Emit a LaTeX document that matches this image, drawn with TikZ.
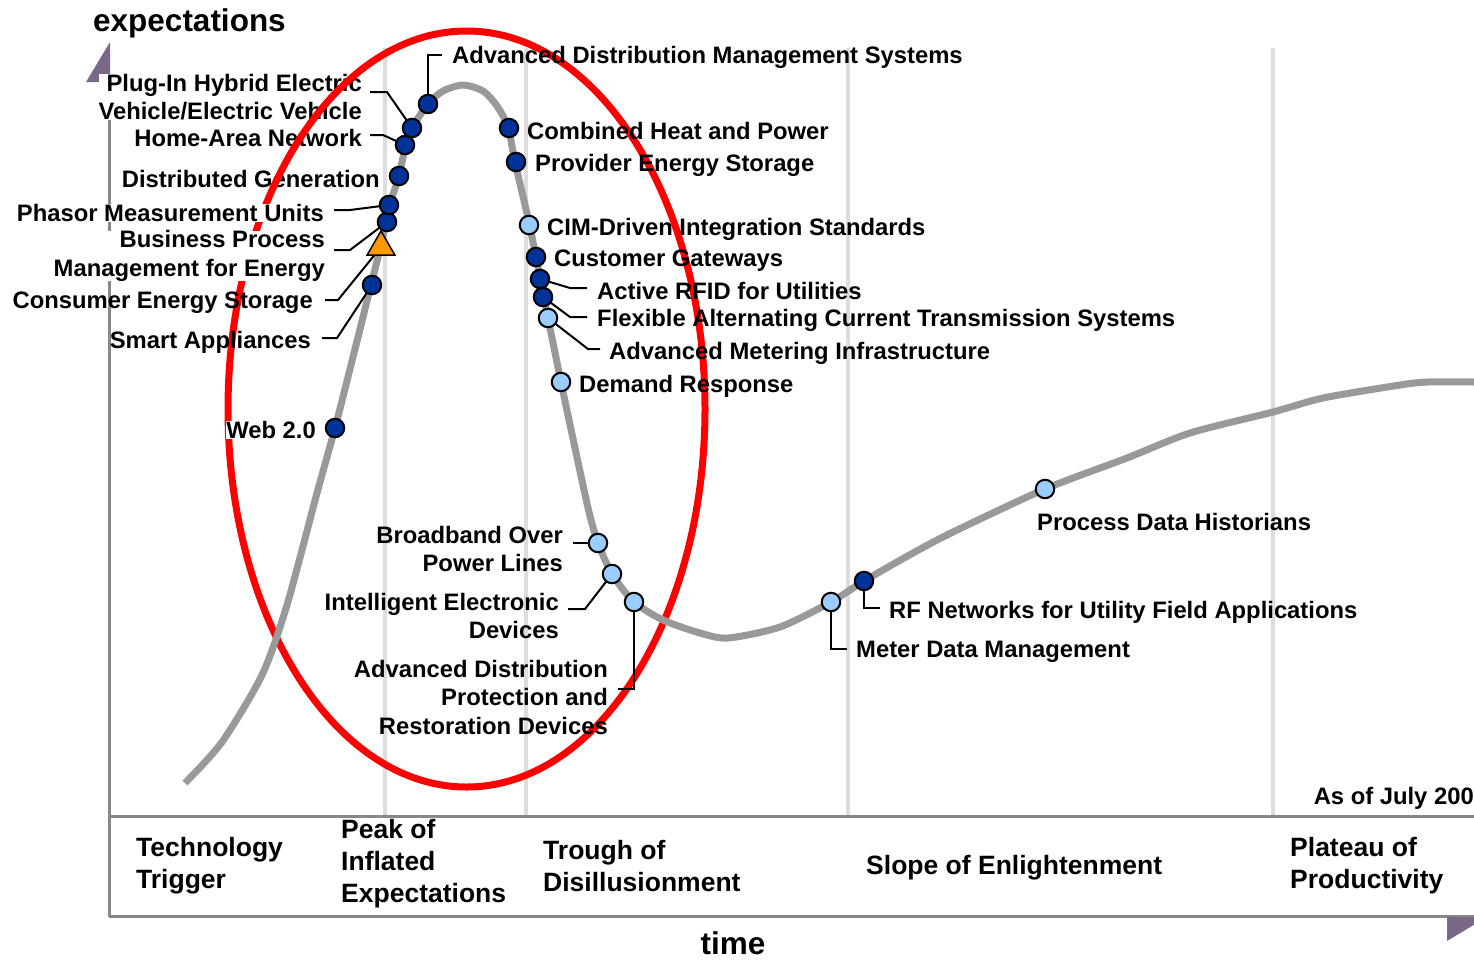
\documentclass[tikz,border=0pt]{standalone}
\usepackage{fontspec}
\setmainfont{Liberation Sans}
\usetikzlibrary{shapes.geometric}
\definecolor{dkblue}{RGB}{0,51,153}
\definecolor{ltblue}{RGB}{153,204,255}
\definecolor{curvegray}{RGB}{153,153,153}
\definecolor{gridgray}{RGB}{221,221,221}
\definecolor{axisgray}{RGB}{136,136,136}
\definecolor{arrowpurple}{RGB}{122,104,136}
\definecolor{trorange}{RGB}{255,153,0}
\begin{document}
\begin{tikzpicture}[x=1pt,y=-1pt,
  lbl/.style={font=\fontsize{23.8}{28.5}\selectfont\bfseries, inner sep=0pt, align=left, anchor=west},
  lblr/.style={font=\fontsize{23.8}{28.5}\selectfont\bfseries, inner sep=0pt, align=right, anchor=east},
  wbox/.style={fill=white},
  phase/.style={font=\fontsize{26.5}{32}\selectfont\bfseries, inner sep=0pt, align=left, anchor=west},
  axtitle/.style={font=\fontsize{31.5}{36}\selectfont\bfseries, inner sep=0pt},
  dkdot/.style={circle, draw=black, line width=2pt, fill=dkblue, minimum size=18.5pt, inner sep=0pt},
  ltdot/.style={dkdot, fill=ltblue},
  tri/.style={regular polygon, regular polygon sides=3, draw=black, line width=1.5pt, fill=trorange, minimum size=32pt, inner sep=0pt},
  leader/.style={draw=black, line width=2pt},
  gridline/.style={draw=gridgray, line width=4pt},
  axisline/.style={draw=axisgray, line width=3pt},
  hype/.style={draw=curvegray, line width=7pt},
  ring/.style={draw=red, line width=7pt}]
\useasboundingbox (0,0) rectangle (1474,959);

% grid lines
\foreach \gx in {385,526,848,1273}{\draw[gridline] (\gx,48) -- (\gx,816);}
% axes
\draw[axisline] (109,816) -- (1474,816);
\draw[axisline] (109,916) -- (1474,916);
\draw[axisline] (109,82) -- (109,917);
\fill[arrowpurple] (110,42) -- (86,82) -- (110,82) -- cycle;
\fill[arrowpurple] (1447,917) -- (1447,941) -- (1487,917) -- cycle;

% labels under the ellipse (white boxes)
\node[lblr, wbox] (lplug) at (362,97) {Plug-In Hybrid Electric\\Vehicle/Electric Vehicle};
\node[lblr, wbox] (lhome) at (362,138) {Home-Area Network};
\node[lblr, wbox] (ldg) at (380,179) {Distributed Generation};

% red ellipse
\draw[ring] (466.5,409) ellipse [x radius=238.5, y radius=378];

% labels over the ellipse
\node[lblr, wbox] (lpmu) at (324,213) {Phasor Measurement Units};
\node[lblr, wbox] (lbpm) at (325,256) {Business Process\\Management for Energy};
\node[lblr] (lces) at (313,303) {Consumer Energy Storage};
\node[lblr] (lsa) at (311,342) {Smart Appliances};
\node[lblr, wbox] (lweb) at (316,430) {Web 2.0};

% hype curve
\draw[hype, line join=round] plot[smooth, tension=0.45] coordinates {
 (185,783) (222,742) (262,675) (287,605) (317,493) (335,428) (353,357) (371,285)
 (381,245) (389,207) (399,176) (405,148) (412,128) (428,104) (443,91) (463,85)
 (483,91) (497,106) (508,127) (515,162) (528,218) (536,257) (541,282) (548,318)
 (561,382) (575,448) (589,512) (598,543) (612,574) (634,602) (663,620) (700,633)
 (728,638) (780,627) (831,602) (864,581) (913,553) (953,532) (1045,489) (1127,458)
 (1190,433) (1273,412) (1323,398) (1400,385) (1428,382) (1474,382)};

% dots (positions)
\coordinate (pweb) at (335,428);
\coordinate (psa) at (372,285);
\coordinate (pces) at (381,247);
\coordinate (pbpm) at (387,222);
\coordinate (ppmu) at (389,205);
\coordinate (pdg) at (399,176);
\coordinate (phome) at (405,145);
\coordinate (pplug) at (412,128);
\coordinate (padms) at (428,104);
\coordinate (pchp) at (509,128);
\coordinate (pprov) at (516,162);
\coordinate (pcim) at (529,225);
\coordinate (pcg) at (536,257);
\coordinate (prfid) at (540,279);
\coordinate (pfacts) at (543,297);
\coordinate (pami) at (548,318);
\coordinate (pdr) at (561,382);
\coordinate (pbpl) at (598,543);
\coordinate (pied) at (612,574);
\coordinate (padprd) at (634,602);
\coordinate (pmdm) at (831,602);
\coordinate (prf) at (864,581);
\coordinate (ppdh) at (1045,489);

% leader end points
\coordinate (eadms) at (442,55);
\coordinate (kplug) at (387,92);   \coordinate (eplug) at (370,92);
\coordinate (khome) at (383,135);  \coordinate (ehome) at (370,135);
\coordinate (kpmu) at (350,210);   \coordinate (epmu) at (334,210);
\coordinate (kbpm) at (350,250);   \coordinate (ebpm) at (334,250);
\coordinate (kces) at (338,300);   \coordinate (eces) at (325,300);
\coordinate (ksa) at (337,338);    \coordinate (esa) at (322,338);
\coordinate (krfid) at (570,288);  \coordinate (erfid) at (587,288);
\coordinate (kfacts) at (570,317); \coordinate (efacts) at (587,317);
\coordinate (kami) at (588,349);   \coordinate (eami) at (600,349);
\coordinate (ebpl) at (573,543);
\coordinate (kied) at (585,609);   \coordinate (eied) at (568,609);
\coordinate (eadprd) at (618,689);
\coordinate (emdm) at (847,649);
\coordinate (erf) at (880,608);

% leaders
\draw[leader] (padms) |- (eadms);
\draw[leader] (pplug) -- (kplug) -- (eplug);
\draw[leader] (phome) -- (khome) -- (ehome);
\draw[leader] (ppmu) -- (kpmu) -- (epmu);
\draw[leader] (pbpm) -- (kbpm) -- (ebpm);
\draw[leader] (pces) -- (kces) -- (eces);
\draw[leader] (psa) -- (ksa) -- (esa);
\draw[leader] (prfid) -- (krfid) -- (erfid);
\draw[leader] (pfacts) -- (kfacts) -- (efacts);
\draw[leader] (pami) -- (kami) -- (eami);
\draw[leader] (pbpl) -- (ebpl);
\draw[leader] (pied) -- (kied) -- (eied);
\draw[leader] (padprd) |- (eadprd);
\draw[leader] (pmdm) |- (emdm);
\draw[leader] (prf) |- (erf);

% markers
\node[dkdot] (dweb) at (pweb) {};
\node[dkdot] (dsa) at (psa) {};
\node[tri] (dces) at (pces) {};
\node[dkdot] (dbpm) at (pbpm) {};
\node[dkdot] (dpmu) at (ppmu) {};
\node[dkdot] (ddg) at (pdg) {};
\node[dkdot] (dhome) at (phome) {};
\node[dkdot] (dplug) at (pplug) {};
\node[dkdot] (dadms) at (padms) {};
\node[dkdot] (dchp) at (pchp) {};
\node[dkdot] (dprov) at (pprov) {};
\node[ltdot] (dcim) at (pcim) {};
\node[dkdot] (dcg) at (pcg) {};
\node[dkdot] (drfid) at (prfid) {};
\node[dkdot] (dfacts) at (pfacts) {};
\node[ltdot] (dami) at (pami) {};
\node[ltdot] (ddr) at (pdr) {};
\node[ltdot] (dbpl) at (pbpl) {};
\node[ltdot] (died) at (pied) {};
\node[ltdot] (dadprd) at (padprd) {};
\node[ltdot] (dmdm) at (pmdm) {};
\node[dkdot] (drf) at (prf) {};
\node[ltdot] (dpdh) at (ppdh) {};

% right-hand labels
\node[lbl] (ladms) at (452,57) {Advanced Distribution Management Systems};
\node[lbl] (lchp) at (527,131) {Combined Heat and Power};
\node[lbl] (lprov) at (535,165) {Provider Energy Storage};
\node[lbl] (lcim) at (547,229) {CIM-Driven Integration Standards};
\node[lbl] (lcg) at (554,261) {Customer Gateways};
\node[lbl] (lrfid) at (597,291) {Active RFID for Utilities};
\node[lbl] (lfacts) at (597,320) {Flexible Alternating Current Transmission Systems};
\node[lbl] (lami) at (609,353) {Advanced Metering Infrastructure};
\node[lbl] (ldr) at (579,386) {Demand Response};
\node[lblr] (lbpl) at (563,549) {Broadband Over\\Power Lines};
\node[lblr] (lied) at (559,616) {Intelligent Electronic\\Devices};
\node[lblr] (ladprd) at (608,697) {Advanced Distribution\\Protection and\\Restoration Devices};
\node[lbl] (lpdh) at (1037,522) {Process Data Historians};
\node[lbl] (lrf) at (889,612) {RF Networks for Utility Field Applications};
\node[lbl] (lmdm) at (856,652) {Meter Data Management};
\node[lblr] (lasof) at (1474,798) {As of July 200};

% phases
\node[phase] (ph1) at (136,866) {Technology\\Trigger};
\node[phase] (ph2) at (341,864) {Peak of\\Inflated\\Expectations};
\node[phase] (ph3) at (543,866) {Trough of\\Disillusionment};
\node[phase] (ph4) at (866,868) {Slope of Enlightenment};
\node[phase] (ph5) at (1290,866) {Plateau of\\Productivity};

% axis titles
\node[axtitle, anchor=west] (ytitle) at (93,23) {expectations};
\node[axtitle] (xtitle) at (733,943) {time};
\end{tikzpicture}
\end{document}
